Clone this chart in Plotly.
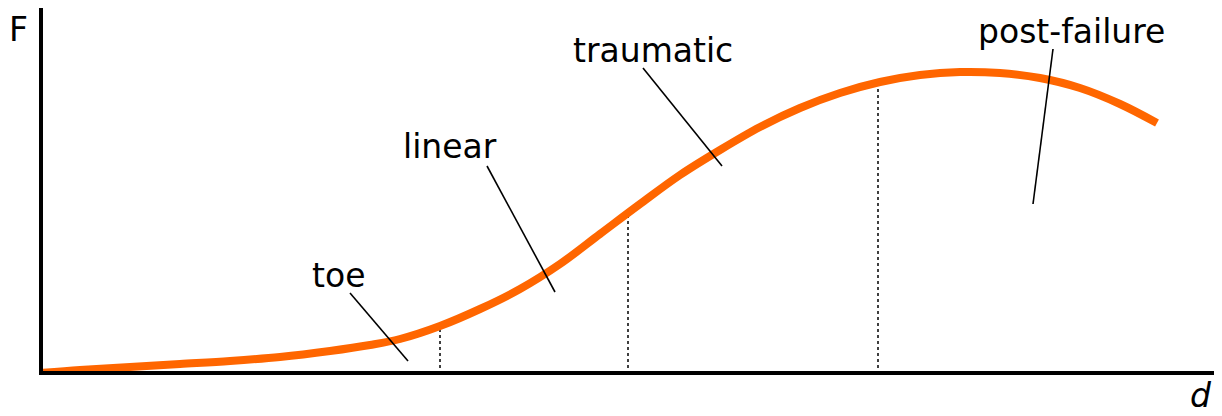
import numpy as np
import plotly.graph_objects as go

# Force-displacement curve (arbitrary units)
displacement = [0, 40, 90, 140, 190, 240, 290, 330, 360, 400, 440, 480, 520, 560,
                600, 640, 680, 720, 760, 800, 840, 880, 920, 960, 1000, 1040, 1080, 1117]
force = [1, 4, 7, 10, 13, 17, 23, 29, 35, 48, 65, 85, 110, 140,
         170, 199, 224, 247, 266, 281, 292, 299, 302, 301, 296, 286, 270, 251]

# Region boundaries (displacement)
boundaries = [400, 588, 838]

# Region labels
labels = ["toe", "linear", "traumatic", "post-failure"]

ORANGE = "#ff6600"
FONT = "DejaVu Sans"

fig = go.Figure()

# dotted region boundaries, from axis up to curve
for b in boundaries:
    top = float(np.interp(b, displacement, force))
    fig.add_trace(go.Scatter(x=[b, b], y=[0, top], mode="lines",
                             line=dict(color="black", width=1.5, dash="dot"),
                             hoverinfo="skip", showlegend=False))

fig.add_trace(go.Scatter(x=displacement, y=force, mode="lines",
                         line=dict(color=ORANGE, width=8, shape="spline"),
                         showlegend=False, cliponaxis=False))

# label placement (layout)
label_pos = [(298, 99), (410, 228), (613, 324), (1031, 343)]
leader = [((310, 81), (368, 13)), ((447, 208), (515, 82)),
          ((603, 306), (682, 208)), ((1013, 325), (993, 170))]

for lab, (tx, ty), ((x0, y0), (x1, y1)) in zip(labels, label_pos, leader):
    fig.add_annotation(x=tx, y=ty, text=lab, showarrow=False,
                       font=dict(family=FONT, size=33, color="black"),
                       xanchor="center", yanchor="middle")
    fig.add_shape(type="line", x0=x0, y0=y0, x1=x1, y1=y1,
                  line=dict(color="black", width=1.6))

fig.add_annotation(xref="paper", yref="paper", x=-0.0212, y=0.9394, text="F",
                   showarrow=False, font=dict(family=FONT, size=33, color="black"),
                   xanchor="center", yanchor="middle")
fig.add_annotation(xref="paper", yref="paper", x=0.9839, y=-0.068, text="<i>d</i>",
                   showarrow=False, font=dict(family=FONT, size=33, color="black"),
                   xanchor="center", yanchor="middle")

fig.update_layout(
    width=1222, height=416,
    margin=dict(l=35, r=10, t=0, b=53),
    paper_bgcolor="white", plot_bgcolor="white",
    xaxis=dict(range=[3, 1180], showgrid=False, zeroline=False,
               showticklabels=False, ticks="", showline=True,
               linecolor="black", linewidth=4),
    yaxis=dict(range=[3, 366], showgrid=False, zeroline=False,
               showticklabels=False, ticks="", showline=True,
               linecolor="black", linewidth=4),
)

fig.write_html("out.html")
